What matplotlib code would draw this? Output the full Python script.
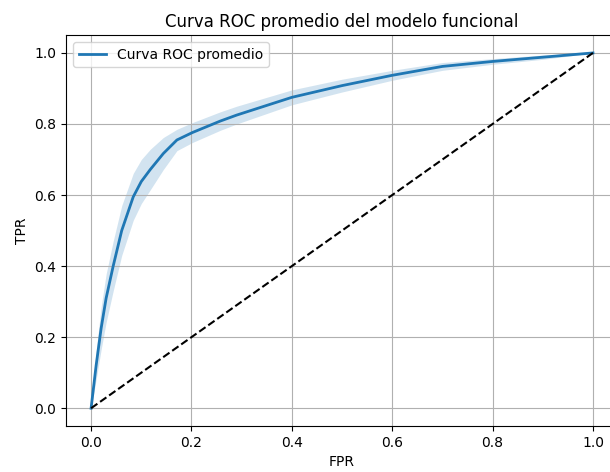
import numpy as np
import matplotlib
matplotlib.use('Agg')
import matplotlib.pyplot as plt

# mean ROC curve
fpr = [0.0, 0.01, 0.02, 0.03, 0.044, 0.061, 0.084, 0.1, 0.118, 0.144, 0.171,
       0.202, 0.257, 0.29, 0.4, 0.5, 0.6, 0.7, 0.8, 0.9, 1.0]
tpr_mean = [0.0, 0.12, 0.225, 0.31, 0.40, 0.50, 0.595, 0.638, 0.672, 0.717, 0.755,
            0.776, 0.808, 0.825, 0.875, 0.908, 0.937, 0.962, 0.976, 0.988, 1.0]
tpr_std = [0.0, 0.04, 0.06, 0.068, 0.07, 0.07, 0.066, 0.062, 0.057, 0.045, 0.03,
           0.028, 0.026, 0.025, 0.021, 0.018, 0.014, 0.011, 0.008, 0.006, 0.0]

fpr = np.array(fpr)
tpr_mean = np.array(tpr_mean)
tpr_std = np.array(tpr_std)

fig = plt.figure(figsize=(6.1, 4.72), dpi=100)
ax = fig.add_axes([0.1082, 0.0975, 0.905, 0.828])

ax.plot(fpr, tpr_mean, color='tab:blue', lw=2, label='Curva ROC promedio')
ax.fill_between(fpr, np.clip(tpr_mean - tpr_std, 0, 1), np.clip(tpr_mean + tpr_std, 0, 1),
                color='tab:blue', alpha=0.2, lw=0)
ax.plot([0, 1], [0, 1], 'k--', lw=1.5)

ax.set_xlim(-0.05, 1.05)
ax.set_ylim(-0.05, 1.05)
ax.set_xlabel('FPR')
ax.set_ylabel('TPR')
ax.set_title('Curva ROC promedio del modelo funcional')
ax.legend(loc='upper left')
ax.grid(True)
# the reference is cropped on the right, so no right frame line shows
ax.spines['right'].set_visible(False)

fig.savefig('out.png', dpi=100)
